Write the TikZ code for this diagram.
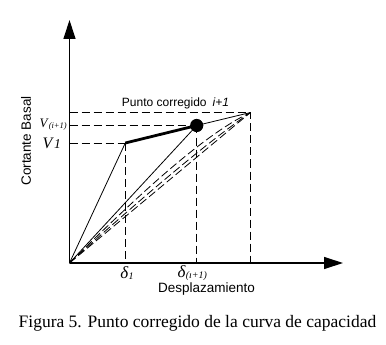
\documentclass[tikz,border=0pt]{standalone}
\usepackage{fontspec}
\setmainfont{Liberation Serif}
\setsansfont{Liberation Sans}
\usetikzlibrary{arrows.meta}
\begin{document}
\begin{tikzpicture}[x=1pt,y=-1pt,
  axis/.style={line width=1.2pt,-{Triangle[length=19pt,width=12pt]}},
  guide/.style={line width=1pt,dash pattern=on 8pt off 4pt},
  secant/.style={line width=0.8pt,dash pattern=on 8pt off 3.5pt},
  thin line/.style={line width=0.8pt},
  sanslabel/.style={font=\sffamily\fontsize{13.5}{14}\selectfont,inner sep=0pt},
  serlabel/.style={font=\fontsize{16}{16}\selectfont,inner sep=0pt}]
\useasboundingbox (0,0) rectangle (386,345);
% key points
\coordinate (O) at (69.5,263);
\coordinate (ytip) at (69.5,20);
\coordinate (xtip) at (343,263);
\coordinate (C) at (250.5,112.5);
\coordinate (P1) at (125.3,143);
\coordinate (D) at (196.7,125.5);
\coordinate (Cy) at (69.5,112.5);
\coordinate (Dy) at (69.5,125.5);
\coordinate (P1y) at (69.5,143);
\coordinate (Cx) at (250.5,263);
\coordinate (Dx) at (196.7,263);
\coordinate (P1x) at (125.3,263);
% axes
\draw[axis] (O) -- (ytip);
\draw[axis] (O) -- (xtip);
% guide dashed lines
\draw[guide] (Cy) -- (C) -- (Cx);
\draw[guide] (Dy) -- (D);
\draw[guide] (P1y) -- (P1);
\draw[guide] (D) -- (Dx);
\draw[guide] (P1) -- (P1x);
% secant dashed lines
\draw[secant] (O) .. controls (130,203.7) and (200,136.2) .. (C);
\draw[secant] (O) .. controls (130,208.5) and (200,147.3) .. (C);
\draw[secant] (O) -- (C);
% solid lines
\draw[thin line] (O) -- (P1);
\draw[thin line] (O) -- (D);
\draw[thin line] (D) -- (C);
\draw[line width=2.8pt] (P1) -- (D);
\fill (D) circle (6.6pt);
% labels
\node[sanslabel,font=\sffamily\fontsize{12}{12}\selectfont] (pc) at (175.5,103) {Punto corregido\hspace{6pt}\textit{i+1}};
\node[serlabel,anchor=east,font=\fontsize{13}{13}\selectfont] (vi) at (67,124.5) {\textit{V}\raisebox{-1pt}{\fontsize{8.5}{8.5}\selectfont\textit{(i+1)}}};
\node[serlabel,anchor=east] (v1) at (61,143) {\textit{V}\fontsize{13.5}{13.5}\selectfont\textit{1}};
\node[serlabel,font=\fontsize{17}{17}\selectfont] (d1) at (127,273.5) {\textit{δ}\raisebox{-1pt}{\fontsize{10}{10}\selectfont\textit{1}}};
\node[serlabel,anchor=west,font=\fontsize{17}{17}\selectfont] (di) at (177.5,273.5) {\textit{δ}\raisebox{-1pt}{\fontsize{10}{10}\selectfont\textit{(ı+1)}}};
\node[sanslabel] (dx) at (206.5,289) {Desplazamiento};
\node[sanslabel,rotate=90] (cb) at (26,141) {Cortante Basal};
\node[font=\fontsize{17.5}{18}\selectfont,inner sep=0pt] (cap) at (197.5,323) {Figura 5. Punto corregido de la curva de capacidad};
\end{tikzpicture}
\end{document}
